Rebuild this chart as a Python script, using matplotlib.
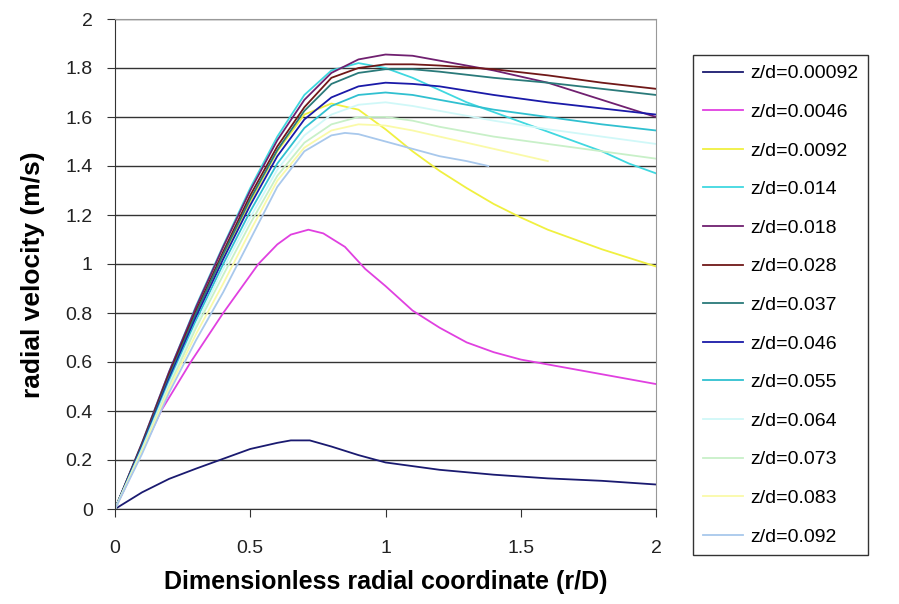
import matplotlib
matplotlib.use("Agg")
import matplotlib.pyplot as plt
from matplotlib.ticker import FuncFormatter

plt.rcParams["font.family"] = ["Liberation Sans", "DejaVu Sans"]

# radial positions and velocities
x_navy = [0, 0.1, 0.2, 0.3, 0.4, 0.5, 0.6, 0.65, 0.72, 0.8, 0.9, 1.0, 1.1, 1.2, 1.4, 1.6, 1.8, 2.0]
v_00092 = [0, 0.068, 0.123, 0.165, 0.205, 0.245, 0.27, 0.28, 0.28, 0.255, 0.22, 0.19, 0.175, 0.16, 0.14, 0.125, 0.115, 0.10]

x_mag = [0, 0.086, 0.17, 0.28, 0.40, 0.53, 0.6, 0.65, 0.715, 0.77, 0.85, 0.925, 1.0, 1.1, 1.2, 1.3, 1.4, 1.5, 1.6, 1.8, 2.0]
v_0046 = [0, 0.2, 0.4, 0.6, 0.8, 1.0, 1.08, 1.12, 1.14, 1.125, 1.07, 0.98, 0.91, 0.81, 0.74, 0.68, 0.64, 0.61, 0.59, 0.55, 0.51]

x_fine = [0, 0.1, 0.2, 0.3, 0.4, 0.5, 0.6, 0.7, 0.8, 0.9, 1.0, 1.1, 1.2, 1.3, 1.4, 1.5, 1.6, 1.7, 1.8, 1.9, 2.0]
v_0092 = [0, 0.26, 0.54, 0.795, 1.03, 1.255, 1.46, 1.61, 1.655, 1.63, 1.55, 1.46, 1.38, 1.31, 1.245, 1.19, 1.14, 1.10, 1.06, 1.025, 0.99]
v_014 = [0, 0.27, 0.56, 0.83, 1.075, 1.31, 1.52, 1.69, 1.79, 1.82, 1.80, 1.76, 1.71, 1.66, 1.62, 1.58, 1.54, 1.50, 1.46, 1.41, 1.37]

x_mid = [0, 0.1, 0.2, 0.3, 0.4, 0.5, 0.6, 0.7, 0.8, 0.9, 1.0, 1.1, 1.2, 1.4, 1.6, 1.8, 2.0]
v_018 = [0, 0.27, 0.56, 0.825, 1.07, 1.30, 1.505, 1.67, 1.78, 1.835, 1.855, 1.85, 1.83, 1.79, 1.74, 1.67, 1.60]
v_028 = [0, 0.265, 0.55, 0.81, 1.05, 1.28, 1.48, 1.64, 1.76, 1.80, 1.815, 1.815, 1.81, 1.795, 1.77, 1.74, 1.715]
v_037 = [0, 0.26, 0.54, 0.80, 1.04, 1.265, 1.465, 1.625, 1.735, 1.78, 1.795, 1.795, 1.785, 1.76, 1.74, 1.715, 1.69]
v_046 = [0, 0.255, 0.53, 0.785, 1.02, 1.24, 1.44, 1.59, 1.68, 1.725, 1.74, 1.735, 1.725, 1.69, 1.66, 1.635, 1.61]
v_055 = [0, 0.25, 0.52, 0.77, 1.0, 1.215, 1.41, 1.555, 1.645, 1.69, 1.70, 1.69, 1.67, 1.63, 1.60, 1.57, 1.545]
v_064 = [0, 0.245, 0.51, 0.755, 0.98, 1.19, 1.385, 1.525, 1.61, 1.65, 1.66, 1.645, 1.625, 1.585, 1.55, 1.52, 1.49]
v_073 = [0, 0.24, 0.50, 0.74, 0.955, 1.165, 1.36, 1.495, 1.57, 1.60, 1.60, 1.585, 1.56, 1.52, 1.49, 1.46, 1.43]

x_083 = [0, 0.1, 0.2, 0.3, 0.4, 0.5, 0.6, 0.7, 0.8, 0.9, 1.0, 1.1, 1.2, 1.4, 1.6]
v_083 = [0, 0.235, 0.49, 0.715, 0.92, 1.135, 1.34, 1.475, 1.545, 1.57, 1.565, 1.545, 1.52, 1.47, 1.42]

x_092 = [0, 0.1, 0.2, 0.3, 0.4, 0.5, 0.6, 0.7, 0.8, 0.85, 0.9, 1.0, 1.1, 1.2, 1.3, 1.38]
v_092 = [0, 0.225, 0.475, 0.69, 0.885, 1.10, 1.315, 1.46, 1.525, 1.535, 1.53, 1.50, 1.47, 1.44, 1.42, 1.40]

labels = ["z/d=0.00092", "z/d=0.0046", "z/d=0.0092", "z/d=0.014", "z/d=0.018",
          "z/d=0.028", "z/d=0.037", "z/d=0.046", "z/d=0.055", "z/d=0.064",
          "z/d=0.073", "z/d=0.083", "z/d=0.092"]
colors = ["#1a1a70", "#e040e0", "#f0f040", "#40d8e0", "#702070", "#701818",
          "#2a7a7a", "#1a1aa8", "#30c0d0", "#d0f8f8", "#c8f0c8", "#fafaa8", "#a8c8ec"]

series = [
    (x_navy, v_00092), (x_mag, v_0046), (x_fine, v_0092), (x_fine, v_014),
    (x_mid, v_018), (x_mid, v_028), (x_mid, v_037), (x_mid, v_046),
    (x_mid, v_055), (x_mid, v_064), (x_mid, v_073), (x_083, v_083), (x_092, v_092),
]

fig = plt.figure(figsize=(8.99, 6.04), dpi=100)
ax = fig.add_axes([115 / 899, 1 - 509 / 604, 541 / 899, 490 / 604])

for (xs, ys), lab, c in zip(series, labels, colors):
    ax.plot(xs, ys, color=c, lw=1.3, label=lab)

ax.set_xlim(0, 2)
ax.set_ylim(0, 2)
ax.set_xticks([0, 0.5, 1, 1.5, 2])
ax.set_yticks([0, 0.2, 0.4, 0.6, 0.8, 1.0, 1.2, 1.4, 1.6, 1.8, 2.0])
ax.xaxis.set_major_formatter(FuncFormatter(lambda v, p: f"{v:g}"))
ax.yaxis.set_major_formatter(FuncFormatter(lambda v, p: f"{v:g}"))
ax.yaxis.grid(True, color="#333333", lw=1.0)
ax.set_axisbelow(True)

for side in ["top", "right"]:
    ax.spines[side].set_color("#999999")
for side in ["left", "bottom"]:
    ax.spines[side].set_color("#333333")
ax.tick_params(direction="out", length=6, color="#333333", labelsize=14,
               labelcolor="#222222")
ax.tick_params(axis="y", pad=10)
ax.tick_params(axis="x", pad=16)

fig.text(386 / 899, 1 - 582 / 604, "Dimensionless radial coordinate (r/D)",
         ha="center", va="center", fontsize=18, fontweight="bold")
fig.text(33 / 899, 1 - 275 / 604, "radial velocity (m/s)", rotation=90,
         ha="center", va="center", fontsize=19, fontweight="bold")

leg = ax.legend(loc="upper left", bbox_to_anchor=(693 / 899, 1 - 55 / 604),
                bbox_transform=fig.transFigure, borderaxespad=0, fontsize=14,
                fancybox=False, frameon=True, edgecolor="black",
                labelspacing=1.08, handlelength=2.05, handletextpad=0.4,
                borderpad=0.5)
leg.get_frame().set_linewidth(1.0)

fig.savefig("out.png", dpi=100)
